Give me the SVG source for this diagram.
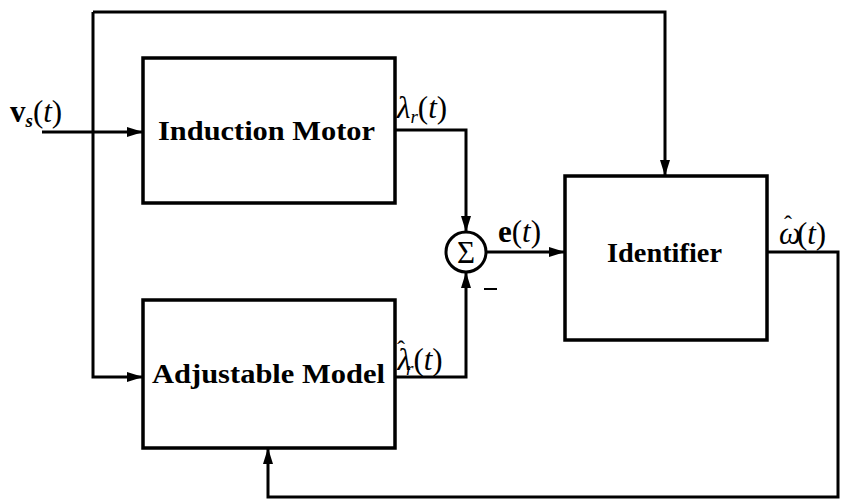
<svg xmlns="http://www.w3.org/2000/svg" width="845" height="501" viewBox="0 0 845 501">
<defs>
<marker id="ah" viewBox="0 0 16 10" refX="16" refY="5" markerWidth="16" markerHeight="10" markerUnits="userSpaceOnUse" orient="auto">
<path d="M0,0 L16,5 L0,10 Z" fill="#000"/>
</marker>
</defs>
<style>
.box{fill:none;stroke:#000;stroke-width:3.5}
.ln{fill:none;stroke:#000;stroke-width:3}
.lbl{font-family:"Liberation Serif","DejaVu Serif",serif;font-weight:bold;font-size:28px;fill:#000}
.m{font-family:"Liberation Serif","DejaVu Serif",serif;font-size:31px;fill:#000}
.i{font-style:italic}
.b{font-weight:bold}
</style>
<rect width="845" height="501" fill="#fff"/>
<g id="connectors">
<path class="ln" d="M42,132 H143" marker-end="url(#ah)"/>
<path class="ln" d="M93,12 V377 H143" marker-end="url(#ah)"/>
<path class="ln" d="M93,12 H665 V176" marker-end="url(#ah)"/>
<path class="ln" d="M395,130 H466 V232" marker-end="url(#ah)"/>
<path class="ln" d="M395,377 H466 V272" marker-end="url(#ah)"/>
<path class="ln" d="M486,252 H565" marker-end="url(#ah)"/>
<path class="ln" d="M767,252 H838 V497 H268 V448" marker-end="url(#ah)"/>
</g>
<g id="induction-motor">
<rect class="box" x="143" y="58" width="252" height="145"/>
<text class="lbl" x="158" y="140" textLength="217" lengthAdjust="spacingAndGlyphs">Induction Motor</text>
</g>
<g id="adjustable-model">
<rect class="box" x="143" y="300" width="252" height="148"/>
<text class="lbl" x="152" y="383" textLength="233" lengthAdjust="spacingAndGlyphs">Adjustable Model</text>
</g>
<g id="identifier">
<rect class="box" x="565" y="176" width="202" height="164"/>
<text class="lbl" x="607" y="262" textLength="115" lengthAdjust="spacingAndGlyphs">Identifier</text>
</g>
<g id="sum">
<circle cx="466" cy="252" r="20" fill="#fff" stroke="#000" stroke-width="3"/>
<text class="m" x="466" y="263" text-anchor="middle" font-size="32">Σ</text>
<path d="M484,289 H497" stroke="#000" stroke-width="2"/>
</g>
<g id="labels">
<text class="m" x="10" y="122"><tspan class="b">v</tspan><tspan class="b i" font-size="19" dy="5">s</tspan><tspan dy="-5">(</tspan><tspan class="i">t</tspan>)</text>
<text class="m" x="397" y="118"><tspan class="i">λ</tspan><tspan class="i" font-size="19" dy="5">r</tspan><tspan dy="-5">(</tspan><tspan class="i">t</tspan>)</text>
<text class="m" x="397" y="370"><tspan class="i">λ</tspan><tspan font-size="24" dx="-14" dy="-13">ˆ</tspan><tspan class="i" font-size="19" dx="1" dy="18">r</tspan><tspan dy="-5">(</tspan><tspan class="i">t</tspan>)</text>
<text class="m" x="498" y="242"><tspan class="b">e</tspan>(<tspan class="i">t</tspan>)</text>
<text class="m" x="779" y="244"><tspan class="i">ω</tspan><tspan font-size="24" dx="-17" dy="-12">ˆ</tspan><tspan dx="5" dy="12">(</tspan><tspan class="i">t</tspan>)</text>
</g>
</svg>
